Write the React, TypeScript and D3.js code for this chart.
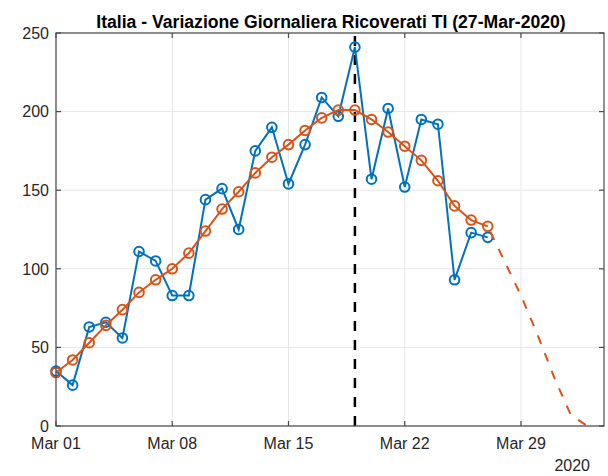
import React from "react";
import * as d3 from "d3";

const W = 608;
const H = 476;

const startDate = new Date(2020, 2, 1);
const endDate = new Date(2020, 3, 3);
const markerDate = new Date(2020, 2, 19);

// Daily variation (Mar 01 .. Mar 27)
const dailyValues = [
  35, 26, 63, 66, 56, 111, 105, 83, 83, 144, 151, 125, 175, 190, 154, 179,
  209, 197, 241, 157, 202, 152, 195, 192, 93, 123, 120,
];
// Smoothed trend (Mar 01 .. Mar 27)
const trendValues = [
  34, 42, 53, 64, 74, 85, 93, 100, 110, 124, 138, 149, 161, 171, 179, 188,
  196, 201, 201, 195, 187, 178, 169, 156, 140, 131, 127,
];
// Projection (Mar 27 .. Apr 02)
const projStartDay = 26;
const projValues = [127, 105, 83, 58, 31, 7, 0];

const yTicks = [0, 50, 100, 150, 200, 250];
const xTickDays = [0, 7, 14, 21, 28];
const title = "Italia - Variazione Giornaliera Ricoverati TI (27-Mar-2020)";
const yearLabel = "2020";

const dayToDate = (i: number) => d3.timeDay.offset(startDate, i);

export default function App() {
  const margin = { left: 56, right: 4, top: 33, bottom: 50 };
  const x = d3
    .scaleTime()
    .domain([startDate, endDate])
    .range([margin.left, W - margin.right]);
  const y = d3
    .scaleLinear()
    .domain([0, 250])
    .range([H - margin.bottom, margin.top]);

  const line = d3
    .line<[Date, number]>()
    .x((d) => x(d[0]))
    .y((d) => y(d[1]));

  const daily: [Date, number][] = dailyValues.map((v, i) => [dayToDate(i), v]);
  const trend: [Date, number][] = trendValues.map((v, i) => [dayToDate(i), v]);
  const proj: [Date, number][] = projValues.map((v, i) => [
    dayToDate(projStartDay + i),
    v,
  ]);

  const x0 = margin.left;
  const x1 = W - margin.right;
  const y0 = H - margin.bottom;
  const y1 = margin.top;
  const fmt = d3.timeFormat("%b %d");
  const blue = "#0072BD";
  const orange = "#D95319";
  const axisColor = "#4a4a4a";
  const textColor = "#262626";
  const font = "'Liberation Sans', Arial, Helvetica, sans-serif";
  const tl = 5;

  return (
    <svg
      width={W}
      height={H}
      style={{ position: "absolute", left: 0, top: 0, background: "#fff" }}
      fontFamily={font}
    >
      <rect x={0} y={0} width={W} height={H} fill="#fff" />
      {/* grid */}
      {yTicks.map((t) => (
        <line
          key={"gy" + t}
          x1={x0}
          x2={x1}
          y1={y(t)}
          y2={y(t)}
          stroke="#e6e6e6"
          strokeWidth={1}
        />
      ))}
      {xTickDays.map((d) => (
        <line
          key={"gx" + d}
          x1={x(dayToDate(d))}
          x2={x(dayToDate(d))}
          y1={y0}
          y2={y1}
          stroke="#e6e6e6"
          strokeWidth={1}
        />
      ))}
      {/* vertical reference line */}
      <line
        x1={x(markerDate)}
        x2={x(markerDate)}
        y1={y0}
        y2={y1}
        stroke="#000"
        strokeWidth={2.5}
        strokeDasharray="10 9"
      />
      {/* daily series */}
      <path d={line(daily) || ""} fill="none" stroke={blue} strokeWidth={2} />
      {daily.map((d, i) => (
        <circle
          key={"b" + i}
          cx={x(d[0])}
          cy={y(d[1])}
          r={4.8}
          fill="none"
          stroke={blue}
          strokeWidth={2}
        />
      ))}
      {/* projection */}
      <path
        d={line(proj) || ""}
        fill="none"
        stroke={orange}
        strokeWidth={2}
        strokeDasharray="9 10"
        strokeDashoffset={-6}
      />
      {/* trend */}
      <path d={line(trend) || ""} fill="none" stroke={orange} strokeWidth={2} />
      {trend.map((d, i) => (
        <circle
          key={"o" + i}
          cx={x(d[0])}
          cy={y(d[1])}
          r={4.8}
          fill="none"
          stroke={orange}
          strokeWidth={2}
        />
      ))}
      {/* axes box */}
      <rect
        x={x0}
        y={y1}
        width={x1 - x0}
        height={y0 - y1}
        fill="none"
        stroke={axisColor}
        strokeWidth={1.2}
      />
      {/* ticks */}
      {yTicks.map((t) => (
        <g key={"ty" + t}>
          <line x1={x0} x2={x0 + tl} y1={y(t)} y2={y(t)} stroke={axisColor} strokeWidth={1.2} />
          <line x1={x1} x2={x1 - tl} y1={y(t)} y2={y(t)} stroke={axisColor} strokeWidth={1.2} />
          <text
            x={x0 - 7}
            y={y(t)}
            dy="0.36em"
            textAnchor="end"
            fontSize={16}
            fill={textColor}
          >
            {t}
          </text>
        </g>
      ))}
      {xTickDays.map((d) => {
        const px = x(dayToDate(d));
        return (
          <g key={"tx" + d}>
            <line x1={px} x2={px} y1={y0} y2={y0 - tl} stroke={axisColor} strokeWidth={1.2} />
            <line x1={px} x2={px} y1={y1} y2={y1 + tl} stroke={axisColor} strokeWidth={1.2} />
            <text x={px} y={449} textAnchor="middle" fontSize={16} fill={textColor}>
              {fmt(dayToDate(d))}
            </text>
          </g>
        );
      })}
      <text x={590} y={471} textAnchor="end" fontSize={16} fill={textColor}>
        {yearLabel}
      </text>
      <text
        x={331}
        y={28}
        textAnchor="middle"
        fontSize={17.6}
        fontWeight="bold"
        fill="#000"
      >
        {title}
      </text>
    </svg>
  );
}
